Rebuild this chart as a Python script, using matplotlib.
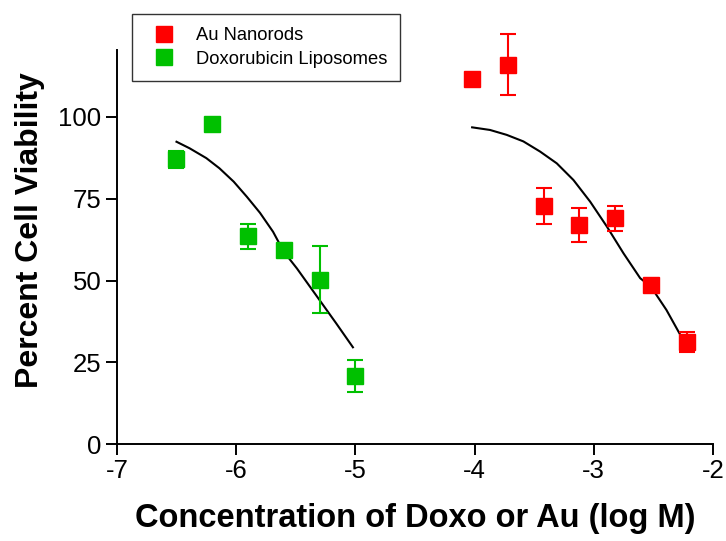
import matplotlib
matplotlib.use('Agg')
import matplotlib.pyplot as plt

# data
doxo_x=[-6.5,-6.2,-5.9,-5.6,-5.3,-5.0]
doxo_y=[87.0,97.9,63.5,59.3,50.3,20.8]
doxo_err=[2.5,0.0,3.8,0.0,10.3,4.8]

au_x=[-4.02,-3.72,-3.42,-3.12,-2.82,-2.52,-2.22]
au_y=[111.5,116.0,72.8,67.0,69.0,48.6,31.3]
au_err=[1.5,9.3,5.6,5.2,3.8,0.0,3.0]

# fitted curves
doxo_fit_x=[-6.50,-6.39,-6.25,-6.14,-6.02,-5.91,-5.80,-5.69,-5.60,-5.49,-5.38,-5.27,-5.16,-5.02]
doxo_fit_y=[92.4,90.4,87.4,84.3,80.2,75.6,70.7,64.9,58.8,53.7,48.1,42.5,36.9,29.6]
au_fit_x=[-4.02,-3.87,-3.73,-3.59,-3.45,-3.31,-3.17,-3.03,-2.89,-2.75,-2.61,-2.52,-2.39,-2.28]
au_fit_y=[96.8,96.0,94.5,92.5,89.4,85.8,80.7,74.1,66.5,58.3,50.7,48.1,41.0,33.8]

xticks=[-7,-6,-5,-4,-3,-2]
yticks=[0,25,50,75,100]

plt.rcParams['font.family']=['Liberation Sans','DejaVu Sans']
plt.rcParams['axes.unicode_minus']=False

fig=plt.figure(figsize=(7.26,5.41),dpi=100)
ax=fig.add_axes([0.161,0.179,0.821,0.729])

# the fit lines
ax.plot(doxo_fit_x,doxo_fit_y,color='black',lw=1.5,zorder=2)
ax.plot(au_fit_x,au_fit_y,color='black',lw=1.5,zorder=2)

# points with error bars
red='#ff0000'
green='#00c000'
ax.errorbar(au_x,au_y,yerr=au_err,fmt='s',color=red,ms=11.5,
            elinewidth=1.5,capsize=6,capthick=1.5,clip_on=False,zorder=3,label='Au Nanorods')
ax.errorbar(doxo_x,doxo_y,yerr=doxo_err,fmt='s',color=green,ms=11.5,
            elinewidth=1.5,capsize=6,capthick=1.5,clip_on=False,zorder=3,label='Doxorubicin Liposomes')

ax.set_xlim(-7,-2)
ax.set_ylim(0,120.5)
ax.set_xticks(xticks)
ax.set_yticks(yticks)
ax.spines['top'].set_visible(False)
ax.spines['right'].set_visible(False)
ax.spines['left'].set_linewidth(1.4)
ax.spines['bottom'].set_linewidth(1.4)
ax.tick_params(direction='out',length=8,width=1.4,labelsize=18.5,pad=3)

ax.set_xlabel('Concentration of Doxo or Au (log M)',fontsize=23.5,fontweight='bold',labelpad=14)
ax.set_ylabel('Percent Cell Viability',fontsize=23,fontweight='bold')
ax.yaxis.set_label_coords(-0.121,0.543)

# legend sits above the axes
handles,labels=ax.get_legend_handles_labels()
handles=[h[0] for h in handles]
leg=fig.legend(handles,labels,loc='upper left',bbox_to_anchor=(132/726,1-14/541),
               fontsize=13.2,frameon=True,fancybox=False,edgecolor='black',
               markerscale=0.95,handlelength=2.0,handletextpad=0.75,borderpad=0.72,
               labelspacing=0.35,borderaxespad=0)
leg.get_frame().set_linewidth(1.0)

fig.savefig('out.png',dpi=100)
